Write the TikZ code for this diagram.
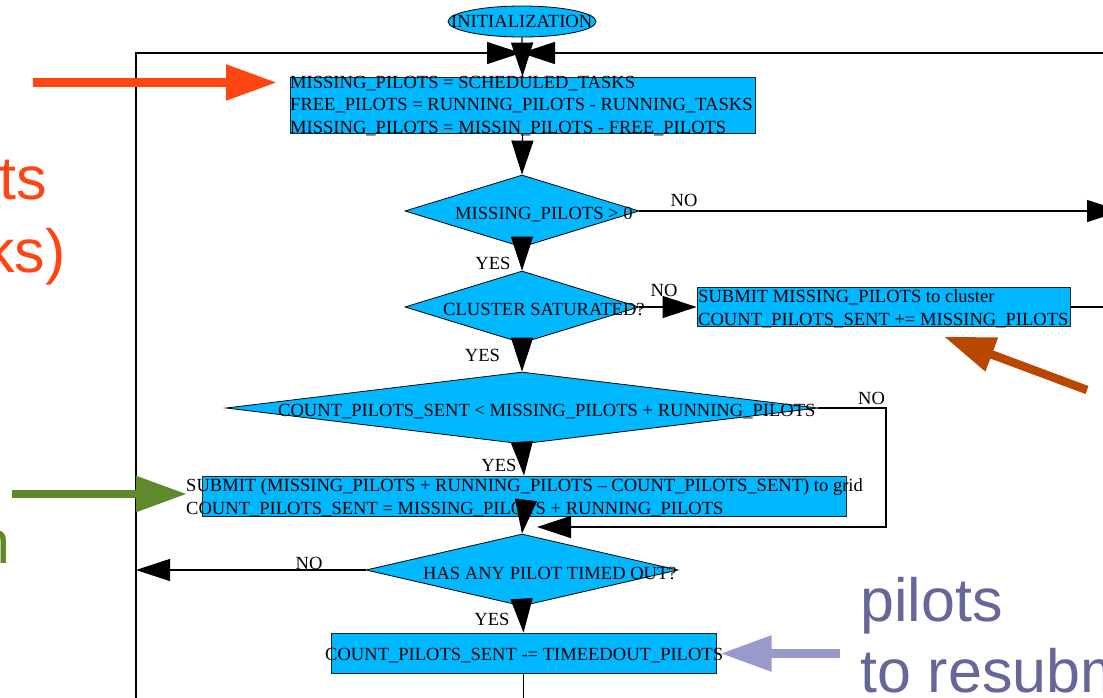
\documentclass[tikz,border=0pt]{standalone}
\usepackage{fontspec}
\setmainfont{Liberation Serif}
\newfontfamily\annfont{Liberation Sans}
\usetikzlibrary{arrows.meta,shapes.geometric}

\definecolor{flowfill}{RGB}{0,184,255}
\definecolor{annred}{RGB}{255,69,18}
\definecolor{annbrown}{RGB}{184,71,0}
\definecolor{anngreen}{RGB}{96,138,42}
\definecolor{annlilac}{RGB}{153,153,204}
\definecolor{annpurple}{RGB}{102,102,153}

% left-aligned block of lines whose baseline is the first line
\newcommand\flowlines[1]{\begin{tabular}[t]{@{}l@{}}#1\end{tabular}}

\tikzset{
  flowtxt/.style={inner sep=0pt, font=\fontsize{18.55}{22.3}\selectfont},
  linetxt/.style={flowtxt, anchor=base west},
  procbox/.style={rectangle, draw=black!85, line width=0.8pt, fill=flowfill, inner sep=0pt},
  decision/.style={diamond, draw=black, line width=0.8pt, fill=flowfill, inner sep=0pt,
                   minimum height=72pt},
  terminal/.style={ellipse, draw=black, line width=0.8pt, fill=flowfill, inner sep=0pt,
                   minimum width=148pt, minimum height=31pt},
  conn/.style={draw=black, line width=1.2pt},
  flowarrow/.style={conn, -{Triangle[length=34pt,width=22pt]}},
  annarrow/.style={line width=8.5pt, line cap=butt, -{Triangle[length=51pt,width=34pt]}},
  anntxt/.style={inner sep=0pt, font=\annfont\fontsize{61}{71}\selectfont},
}

\begin{document}
\begin{tikzpicture}[x=1pt,y=-1pt]
\useasboundingbox (0,0) rectangle (1103,697);

% ---- flowchart shapes ----
\node[terminal] (init) at (522,21.5) {};
\node[flowtxt] (initT) at (521.7,21.5) {INITIALIZATION};

\node[procbox, minimum width=465pt, minimum height=56pt] (box1) at (522.5,105) {};
\node[linetxt] (box1T) at (290,88.5) {\flowlines{MISSING\_PILOTS = SCHEDULED\_TASKS\\
  FREE\_PILOTS = RUNNING\_PILOTS - RUNNING\_TASKS\\
  MISSING\_PILOTS = MISSIN\_PILOTS - FREE\_PILOTS}};

\node[decision, minimum width=234pt] (d1) at (522,211) {};
\node[linetxt] (d1T) at (455,219.5) {MISSING\_PILOTS > 0};

\node[decision, minimum width=234pt] (d2) at (522,307) {};
\node[linetxt] (d2T) at (443,315) {CLUSTER SATURATED?};

\node[procbox, minimum width=373pt, minimum height=39pt] (box2) at (883.5,307) {};
\node[linetxt] (box2T) at (698,302.7) {\flowlines{SUBMIT MISSING\_PILOTS to cluster\\
  COUNT\_PILOTS\_SENT += MISSING\_PILOTS}};

\node[decision, minimum width=592pt] (d3) at (522,408) {};
\node[linetxt] (d3T) at (278,416.5) {COUNT\_PILOTS\_SENT < MISSING\_PILOTS + RUNNING\_PILOTS};

\node[procbox, minimum width=644pt, minimum height=40pt] (box3) at (524,496) {};
\node[linetxt] (box3T) at (186,491.7) {\flowlines{SUBMIT (MISSING\_PILOTS + RUNNING\_PILOTS \textendash{} COUNT\_PILOTS\_SENT) to grid\\
  COUNT\_PILOTS\_SENT = MISSING\_PILOTS + RUNNING\_PILOTS}};

\node[decision, minimum width=312pt] (d4) at (522,570) {};
\node[linetxt] (d4T) at (423,579) {HAS ANY PILOT TIMED OUT?};

\node[procbox, minimum width=385pt, minimum height=40pt] (box4) at (523.5,653) {};
\node[linetxt] (box4T) at (325,660) {COUNT\_PILOTS\_SENT -= TIMEEDOUT\_PILOTS};

% ---- branch labels ----
\node[flowtxt] (no1) at (684,200) {NO};
\node[flowtxt] (yes1) at (493,263) {YES};
\node[flowtxt] (no2) at (664,290) {NO};
\node[flowtxt] (yes2) at (482.5,355) {YES};
\node[flowtxt] (no3) at (871.5,398) {NO};
\node[flowtxt] (yes3) at (499,465) {YES};
\node[flowtxt] (no4) at (309,563) {NO};
\node[flowtxt] (yes4) at (492,619) {YES};

% ---- free ends of the connectors ----
\coordinate (merge) at (521,53);
\coordinate (railL) at (136,700);
\coordinate (railR) at (1110,53);
\coordinate (outR1) at (1121,211);
\coordinate (outR2) at (1110,307);
\coordinate (loopIn) at (537,527);
\coordinate (loopCorner) at (886,408);
\coordinate (leftIn) at (136,570);
\coordinate (outB) at (523.5,700);

% ---- connectors ----
\draw[flowarrow] (railL) -- (136,53) -- (merge);
\draw[flowarrow] (railR) -- (merge);
\draw[flowarrow] (init.south) -- (box1.north);
\draw[flowarrow] (box1.south) -- (d1.north);
\draw[flowarrow] (d1.east) -- (outR1);
\draw[flowarrow] (d1.south) -- (d2.north);
\draw[flowarrow] (d2.east) -- (box2.west);
\draw[conn] (box2.east) -- (outR2);
\draw[flowarrow] (d2.south) -- (d3.north);
\draw[flowarrow] (d3.east) -- (loopCorner) |- (loopIn);
\draw[flowarrow] (d3.south) -- (box3.north);
\draw[flowarrow] (box3.south) -- (d4.north);
\draw[flowarrow] (d4.west) -- (leftIn);
\draw[flowarrow] (d4.south) -- (box4.north);
\draw[conn] (box4.south) -- (outB);

% ---- annotations ----
\coordinate (redTail) at (33,82.5);
\coordinate (redTip) at (277,82.5);
\draw[annarrow, annred] (redTail) -- (redTip);
\node[anntxt, text=annred, anchor=base west] (redA) at (-1,199) {ts};
\node[anntxt, text=annred, anchor=base east] (redB) at (66,272) {ks)};

\coordinate (brownTail) at (1087,390);
\coordinate (brownTip) at (944,336.7);
\draw[annarrow, annbrown] (brownTail) -- (brownTip);

\coordinate (greenTail) at (12,494);
\coordinate (greenTip) at (187,494);
\draw[annarrow, anngreen] (greenTail) -- (greenTip);
\node[anntxt, text=anngreen, anchor=base east] (greenA) at (11,563) {n};

\coordinate (lilacTail) at (840,653.5);
\coordinate (lilacTip) at (720.5,653.5);
\draw[annarrow, annlilac] (lilacTail) -- (lilacTip);
\node[anntxt, text=annpurple, anchor=base west] (lilacA) at (860,621)
  {\begin{tabular}[t]{@{}l@{}}pilots\\to resubm\end{tabular}};
\end{tikzpicture}
\end{document}
